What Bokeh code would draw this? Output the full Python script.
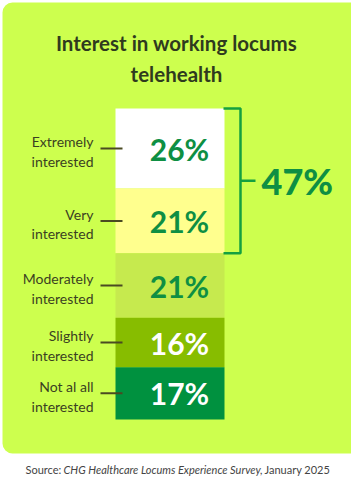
from bokeh.plotting import figure
from bokeh.models import Range1d, BoxAnnotation, ColumnDataSource
from bokeh.core.properties import value
from bokeh.embed import file_html
from bokeh.resources import INLINE

# ---- data ----
categories = ["Extremely\ninterested", "Very\ninterested", "Moderately\ninterested",
              "Slightly\ninterested", "Not al all\ninterested"]
percents = [26, 21, 21, 16, 17]
seg_colors = ["#FFFFFF", "#FFFF8E", "#C6EA4E", "#87BD00", "#00913F"]
value_colors = ["#0E8F43", "#0E8F43", "#0E8F43", "#FFFFFF", "#FFFFFF"]
title_text = "Interest in working locums\ntelehealth"
bracket_count = 2  # first two categories grouped

FONT = "Lato"
PX_PER_PCT = 3.079
BAR_TOP_PX = 108

def py(pixel):
    return (pixel - BAR_TOP_PX) / PX_PER_PCT

p = figure(width=351, height=485, output_backend="svg", toolbar_location=None,
           x_range=Range1d(0, 351), y_range=Range1d(py(485), py(0)),
           min_border=0, outline_line_color=None,
           background_fill_color="#FFFFFF", border_fill_color="#FFFFFF")
p.xaxis.visible = False
p.yaxis.visible = False
p.xgrid.visible = False
p.ygrid.visible = False

# panel
p.add_layout(BoxAnnotation(left=2, right=362, top=py(2), bottom=py(453),
                           fill_color="#CDFF4E", fill_alpha=1, line_color=None,
                           border_radius=10, level="underlay"))

# segments
starts, ends = [], []
acc = 0
for v in percents:
    starts.append(acc)
    acc += v
    ends.append(acc)
mids = [(s + e) / 2 for s, e in zip(starts, ends)]
src = ColumnDataSource(dict(start=starts, end=ends, mid=mids, color=seg_colors,
                            vcolor=value_colors, cat=categories,
                            label=[f"{v}%" for v in percents],
                            x=[169.5] * len(percents)))
p.vbar(x="x", top="start", bottom="end", width=109, fill_color="color",
       line_color=None, source=src)

p.text(x=179, y="mid", text="label", text_color="vcolor", text_font=value(FONT),
       text_font_size="30px", text_font_style="bold", text_align="center",
       text_baseline="middle", source=src)

# category labels and ticks
p.text(x=93, y="mid", text="cat", text_color="#3B3F22", text_font=value(FONT),
       text_font_size="14px", text_align="right", text_baseline="middle",
       text_line_height=1.15, y_offset=3, source=src)
p.segment(x0=100, x1=122, y0="mid", y1="mid", line_color="#4A4A22",
          line_width=2, source=src)

# bracket
b_top = starts[0]
b_bot = ends[bracket_count - 1]
b_mid = (b_top + b_bot) / 2
p.line(x=[223, 240, 240, 223], y=[b_top, b_top, b_bot, b_bot],
       line_color="#14A040", line_width=2.5)
p.segment(x0=240, x1=255, y0=b_mid, y1=b_mid, line_color="#14A040", line_width=2.5)
p.text(x=[261], y=[b_mid], text=[f"{sum(percents[:bracket_count])}%"],
       text_color="#0E8F43", text_font=value("'Lato Black', Lato"), text_font_size="36px",
       text_font_style="bold", text_align="left", text_baseline="middle")

# title
p.text(x=[176], y=[py(58)], text=[title_text], text_color="#2F3A1E",
       text_font=value(FONT), text_font_size="20.5px", text_font_style="bold",
       text_align="center", text_baseline="middle", text_line_height=1.3)

# source
p.text(x=[25], y=[py(469)], text=["Source:"], text_color="#444444",
       text_font=value(FONT), text_font_size="11px", text_baseline="middle")
p.text(x=[63], y=[py(469)], text=["CHG Healthcare Locums Experience Survey,"],
       text_color="#444444", text_font=value(FONT), text_font_size="11px",
       text_font_style="italic", text_baseline="middle")
p.text(x=[264], y=[py(469)], text=["January 2025"], text_color="#444444",
       text_font=value(FONT), text_font_size="11px", text_baseline="middle")

open("out.html", "w").write(file_html(p, INLINE))
